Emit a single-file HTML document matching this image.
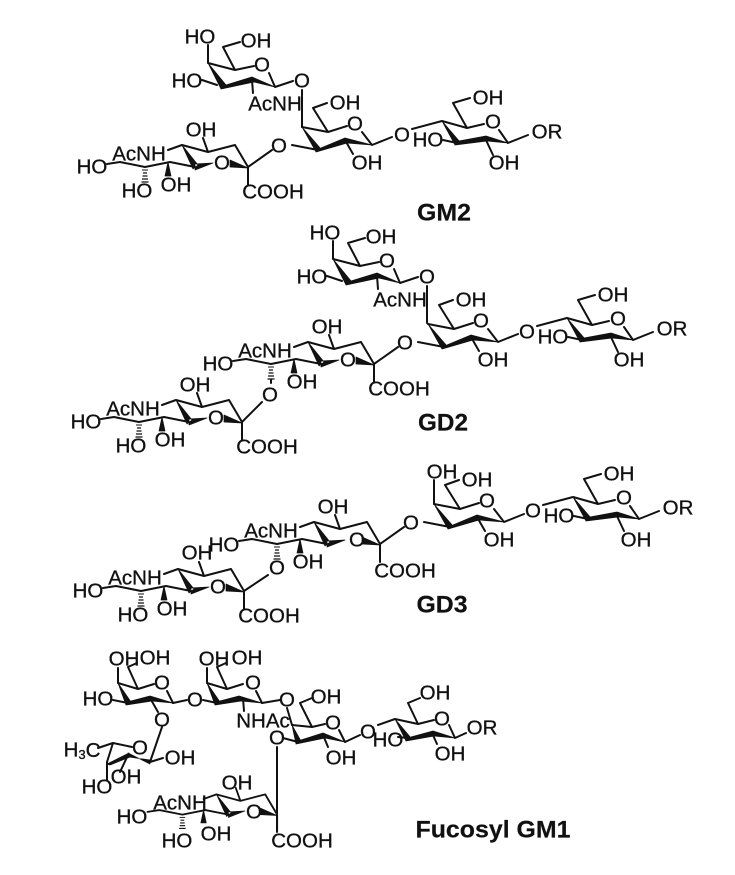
<!DOCTYPE html>
<html><head><meta charset="utf-8"><style>
html,body{margin:0;padding:0;background:#fff;width:735px;height:875px;overflow:hidden}
svg{display:block}
text{font-family:"Liberation Sans",sans-serif;font-size:20.5px;fill:#111;stroke:#111;stroke-width:.3;text-anchor:middle;dominant-baseline:central}
text.b{font-weight:bold;font-size:24px;stroke-width:.2}
.l{fill:none;stroke:#111;stroke-width:2;stroke-linejoin:round;stroke-linecap:round}
.f{fill:#111;stroke:#111;stroke-width:.7;stroke-linejoin:round}
</style></head><body>
<svg width="735" height="875" viewBox="0 0 735 875" xmlns="http://www.w3.org/2000/svg">
<defs>
<g id="sia">
<path class="l" d="M107 164L120 162L145 167L170 162L195 167M168 150L182 145M248 167L235 145L208 152L182 145M208 152L203 138M248 167L248 185"/>
<path class="f" d="M182 145L193 169L198 165ZM195 170L195 164L213 163ZM248 168L230 160L230 167ZM168 162L165 176L171 176Z"/>
<g stroke="#111"><path stroke-width="1" d="M142 170H148"/><path stroke-width="1.2" d="M143 173H147M142.5 176H147.5M142 179H148M141.5 182H148.5"/></g>
</g>
<g id="top">
<path class="l" d="M208 45L208 63L235 70L254 66M269 73L275 87L293 81M235 70L223 47L240 42M202 80L217 85M252 80L253 93M302 90L302 127"/>
<path class="f" d="M208 63L221 89L226 85ZM221 89L254 82L252 77L226 85ZM252 77L275 87L254 82Z"/>
</g>
<g id="mid">
<path class="l" d="M302 127L328 132L347 126M362 132L372 145L392 137M328 132L313 108L327 103M292 145L318 150M345 140L353 154"/>
<path class="f" d="M302 127L316 152L321 149ZM316 152L347 143L345 138L321 148ZM345 138L372 145L347 143Z"/>
</g>
<g id="glc">
<path class="l" d="M412 129L442 121L467 128L484 124M499 130L508 143L528 135M467 128L453 103L470 98M443 140L457 143M485 138L493 155"/>
<path class="f" d="M442 121L455 145L460 142ZM455 145L487 141L486 136L459 141ZM486 136L508 143L487 141Z"/>
</g>
<g id="fgal">
<path class="l" d="M118 683L138 689L154 684M167 691L173 703M138 689L128 667L137 663M118 683L118 668"/>
<path class="f" d="M118 683L126 705L131 702ZM126 705L152 701L150 696L131 701ZM150 696L173 703L152 701Z"/>
</g>
</defs>

<!-- GM2 -->
<use href="#top"/><use href="#mid"/><use href="#glc"/><use href="#sia"/>
<path class="l" d="M248 167L272 150"/>
<text x="200" y="37">HO</text><text x="256" y="41">OH</text><text x="187" y="81">HO</text><text x="262" y="65">O</text><text x="302" y="81">O</text><text x="275" y="104">AcNH</text>
<text x="345" y="103">OH</text><text x="355" y="124">O</text><text x="279" y="146">O</text><text x="367" y="163">OH</text>
<text x="402" y="135">O</text><text x="428" y="140">HO</text><text x="488" y="98">OH</text><text x="493" y="122">O</text><text x="504" y="163">OH</text><text x="547" y="132">OR</text>
<text x="201" y="130">OH</text><text x="139" y="154">AcNH</text><text x="92" y="167">HO</text><text x="176" y="185">OH</text><text x="222" y="163">O</text><text x="273" y="192">COOH</text><text x="137" y="191">HO</text>
<text class="b" x="444" y="213" textLength="54" lengthAdjust="spacingAndGlyphs">GM2</text>

<!-- GD2 -->
<g transform="translate(125,196)"><use href="#top"/>
<text x="200" y="37">HO</text><text x="256" y="41">OH</text><text x="187" y="81">HO</text><text x="262" y="65">O</text><text x="302" y="81">O</text><text x="275" y="104">AcNH</text></g>
<g transform="translate(126,197)"><use href="#mid"/><use href="#sia"/>
<path class="l" d="M248 167L272 150M145 183L145 186"/>
<text x="345" y="103">OH</text><text x="355" y="124">O</text><text x="279" y="146">O</text><text x="367" y="163">OH</text>
<text x="201" y="130">OH</text><text x="139" y="154">AcNH</text><text x="92" y="167">HO</text><text x="176" y="185">OH</text><text x="222" y="163">O</text><text x="273" y="192">COOH</text><text x="144" y="198">O</text></g>
<g transform="translate(125,197)"><use href="#glc"/>
<text x="402" y="135">O</text><text x="428" y="140">HO</text><text x="488" y="98">OH</text><text x="493" y="122">O</text><text x="504" y="163">OH</text><text x="547" y="132">OR</text></g>
<g transform="translate(-6,255)"><use href="#sia"/>
<path class="l" d="M248 167L268 147"/>
<text x="201" y="130">OH</text><text x="139" y="154">AcNH</text><text x="92" y="167">HO</text><text x="176" y="185">OH</text><text x="222" y="163">O</text><text x="273" y="192">COOH</text><text x="137" y="191">HO</text></g>
<text class="b" x="443" y="423" textLength="50" lengthAdjust="spacingAndGlyphs">GD2</text>

<!-- GD3 -->
<g transform="translate(132,377)"><use href="#mid"/><use href="#sia"/>
<path class="l" d="M248 167L272 150M302 127L302 103"/>
<text x="310" y="95">OH</text><text x="345" y="103">OH</text><text x="355" y="124">O</text><text x="279" y="146">O</text><text x="367" y="163">OH</text>
<text x="201" y="130">OH</text><text x="139" y="154">AcNH</text><text x="92" y="168">HO</text><text x="176" y="185">OH</text><text x="225" y="163">O</text><text x="273" y="194">COOH</text><text x="145" y="191">O</text></g>
<g transform="translate(131,376)"><use href="#glc"/>
<text x="402" y="135">O</text><text x="428" y="140">HO</text><text x="488" y="98">OH</text><text x="493" y="122">O</text><text x="505" y="164">OH</text><text x="547" y="132">OR</text></g>
<g transform="translate(-4,424)"><use href="#sia"/>
<path class="l" d="M248 167L272 151"/>
<text x="201" y="129">OH</text><text x="139" y="154">AcNH</text><text x="92" y="167">HO</text><text x="176" y="185">OH</text><text x="222" y="163">O</text><text x="273" y="192">COOH</text><text x="137" y="191">HO</text></g>
<text class="b" x="442" y="605" textLength="51" lengthAdjust="spacingAndGlyphs">GD3</text>

<!-- Fucosyl GM1 -->
<use href="#fgal"/>
<g transform="translate(89,0)"><use href="#fgal"/></g>
<path class="l" d="M113 700L128 703M173 703L187 700M203 700L217 703M262 703L280 700M150 698L158 712M243 698L244 711M287 708L292 725"/>
<text x="124" y="659">OH</text><text x="155" y="658">OH</text><text x="98" y="699">HO</text><text x="162" y="683">O</text><text x="195" y="700">O</text><text x="162" y="720">O</text>
<text x="214" y="659">OH</text><text x="247" y="658">OH</text><text x="253" y="683">O</text><text x="287" y="700">O</text><text x="263" y="721">NHAc</text>
<!-- fucose -->
<path class="l" d="M98 748L113 743L132 747M113 743L107 762L107 780M128 755L120 772M162 727L150 762L163 758"/>
<path class="f" d="M107 764L129 753L130 757L110 765ZM128 753L150 764L150 760L129 757Z"/>
<text x="82" y="750">H<tspan font-size="13" dy="4">3</tspan><tspan dy="-4">C</tspan></text>
<text x="140" y="748">O</text><text x="180" y="758">OH</text><text x="126" y="777">OH</text><text x="97" y="787">HO</text>
<!-- mid gal -->
<path class="l" d="M292 725L312 727L325 724M339 730L345 742L360 735M312 727L300 703L312 698M283 738L298 742M323 735L328 747M277 747L277 832"/>
<path class="f" d="M292 725L296 744L301 741ZM296 744L325 738L323 733L301 740ZM323 733L345 742L325 738Z"/>
<text x="326" y="697">OH</text><text x="333" y="723">O</text><text x="277" y="738">O</text><text x="341" y="758">OH</text>
<!-- glc -->
<path class="l" d="M378 725L395 719L418 724L434 720M449 725L455 738L466 733M418 724L408 703L420 698M398 737L408 738M432 733L437 744"/>
<path class="f" d="M395 719L406 741L411 738ZM406 741L434 736L433 731L411 737ZM433 731L455 738L434 736Z"/>
<text x="368" y="732">O</text><text x="388" y="740">HO</text><text x="435" y="693">OH</text><text x="442" y="719">O</text><text x="450" y="754">OH</text><text x="482" y="728">OR</text>
<!-- sialic -->
<use href="#sia" transform="translate(49,661) scale(.92)"/>
<text x="237" y="783">OH</text><text x="180" y="803">AcNH</text><text x="132" y="817">HO</text><text x="216" y="834">OH</text><text x="254" y="812">O</text><text x="302" y="841">COOH</text><text x="177" y="841">HO</text>
<text class="b" x="493" y="830" textLength="155" lengthAdjust="spacingAndGlyphs">Fucosyl GM1</text>
</svg>
</body></html>
